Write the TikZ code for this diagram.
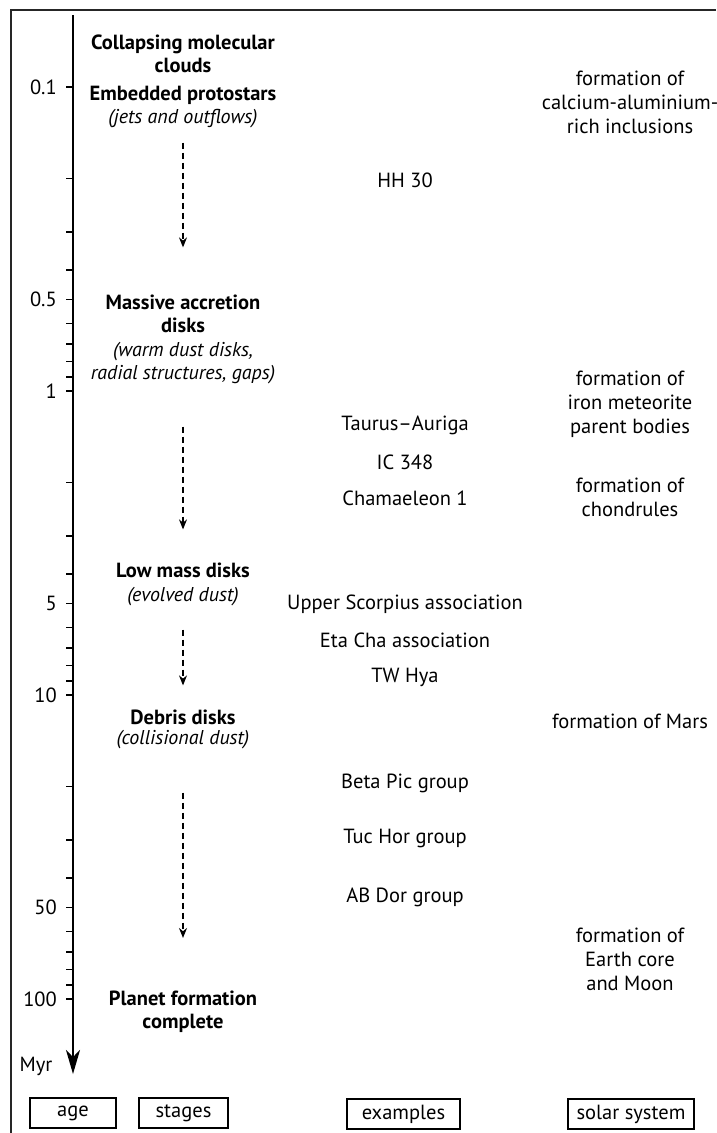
\documentclass[tikz,border=0pt]{standalone}
\usepackage{fontspec}
\setmainfont{PT Sans}
\usetikzlibrary{arrows.meta}
\begin{document}
\begin{tikzpicture}[x=1pt,y=-1pt,
  every node/.style={inner sep=2pt,font=\fontsize{20.5}{24}\selectfont},
  stage/.style={align=center,font=\fontsize{20.5}{23}\selectfont\bfseries},
  note/.style={align=center,font=\fontsize{20}{23}\selectfont\itshape},
  ex/.style={align=center},
  sol/.style={align=center},
  flow/.style={line width=1.2pt,dash pattern=on 6pt off 4pt,-{Stealth[length=10pt,width=8pt]}},
  lab/.style={draw,line width=1.4pt,minimum height=30pt,inner sep=0pt}]
  \useasboundingbox (0,0) rectangle (716,1133);
  \draw[line width=1.6pt,black!85] (716,10) -- (11,10) -- (11,1133);
  % age axis, log scale
  \draw[line width=1.5pt,-{Stealth[length=24pt,width=14pt,inset=7pt]}] (73,15) -- (73,1074);
  \foreach \t in {0.1,0.2,0.3,0.4,0.5,0.6,0.7,0.8,0.9,1,2,3,4,5,6,7,8,9,10,20,30,40,50,60,70,80,90,100}
    \draw[line width=1.5pt] (66,{391+304*log10(\t)}) -- (73,{391+304*log10(\t)});
  \foreach \t [count=\i] in {0.1,0.5,1,5,10,50,100}
    \node[anchor=east] (age\i) at (59,{391+304*log10(\t)}) {\t};
  \node (myr) at (36,1066) {Myr};
  % stages
  \node[stage] (clouds) at (183,53.5) {Collapsing molecular\\clouds};
  \node[stage] (embed) at (183,95) {Embedded protostars};
  \node[note] (jets) at (183,119) {(jets and outflows)};
  \node[stage] (massive) at (183,313.5) {Massive accretion\\disks};
  \node[note] (warm) at (183,363.5) {(warm dust disks,\\radial structures, gaps)};
  \node[stage] (low) at (183,570) {Low mass disks};
  \node[note] (evolved) at (183,597) {(evolved dust)};
  \node[stage] (debris) at (183,717) {Debris disks};
  \node[note] (collis) at (183,740) {(collisional dust)};
  \node[stage] (planet) at (183,1012) {Planet formation\\complete};
  \draw[flow,shorten <=12pt,shorten >=45pt] (jets) -- (massive);
  \draw[flow,shorten <=40pt,shorten >=31pt] (warm) -- (low);
  \draw[flow,shorten <=21pt,shorten >=22pt] (evolved) -- (debris);
  \draw[flow,shorten <=41pt,shorten >=51pt] (collis) -- (planet);
  % examples
  \node[ex] (hh) at (405,180) {HH 30};
  \node[ex] (taurus) at (405,425) {Taurus--Auriga};
  \node[ex] (ic) at (405,462) {IC 348};
  \node[ex] (cha) at (405,498) {Chamaeleon 1};
  \node[ex] (usco) at (405,604) {Upper Scorpius association};
  \node[ex] (eta) at (405,640) {Eta Cha association};
  \node[ex] (tw) at (405,677) {TW Hya};
  \node[ex] (beta) at (405,783) {Beta Pic group};
  \node[ex] (tuc) at (405,838) {Tuc Hor group};
  \node[ex] (ab) at (405,897) {AB Dor group};
  % solar system
  \node[sol] (cai) at (630,102) {formation of\\calcium-aluminium-\\rich inclusions};
  \node[sol] (iron) at (630,404) {formation of\\iron meteorite\\parent bodies};
  \node[sol] (chond) at (630,497.5) {formation of\\chondrules};
  \node[sol] (mars) at (630,721) {formation of Mars};
  \node[sol] (earth) at (630,959) {formation of\\Earth core\\and Moon};
  % column labels
  \node[lab,minimum width=86pt] (agebox) at (73,1113) {age};
  \node[lab,minimum width=89pt] (stagebox) at (183.5,1113) {stages};
  \node[lab,minimum width=113pt] (exbox) at (403.5,1114) {examples};
  \node[lab,minimum width=126pt] (solbox) at (631,1114) {solar system};
\end{tikzpicture}
\end{document}
